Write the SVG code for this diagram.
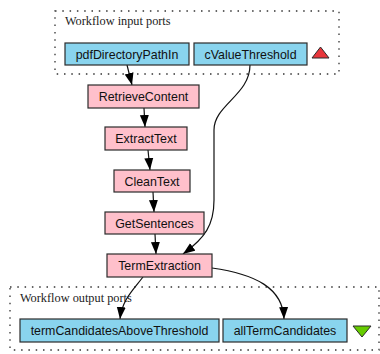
<svg xmlns="http://www.w3.org/2000/svg" width="380" height="354" viewBox="0 0 380 354">
<defs>
<style>
.port{fill:#89d4ee;stroke:#2b2b2b;stroke-width:1.2}
.proc{fill:#ffc0cb;stroke:#2b2b2b;stroke-width:1.2}
.lbl{font-family:"Liberation Sans",Arial,sans-serif;font-size:12.4px;fill:#111;text-anchor:middle}
.cap{font-family:"Liberation Serif","Times New Roman",serif;font-size:12.3px;fill:#222}
.cluster{fill:none;stroke:#333;stroke-width:1.3;stroke-dasharray:1.5,5.8}
.edge{fill:none;stroke:#111;stroke-width:1.2}
</style>
<marker id="arr" viewBox="0 0 12 10" refX="12" refY="5" markerWidth="12" markerHeight="10" markerUnits="userSpaceOnUse" orient="auto">
<path d="M0,0.5 L12,5 L0,9.5 Z" fill="#000"/>
</marker>
</defs>
<rect width="380" height="354" fill="#fff"/>
<g id="inputs">
<rect class="cluster" x="55" y="11" width="284" height="63"/>
<text class="cap" x="65" y="25">Workflow input ports</text>
<polygon points="312,58 320.5,47 329,58" fill="#e8363b" stroke="#2b2b2b" stroke-width="1"/>
</g>
<g id="outputs">
<rect class="cluster" x="10" y="287" width="369" height="63"/>
<text class="cap" x="20" y="302">Workflow output ports</text>
<polygon points="353,326 371,326 362,337" fill="#66cc00" stroke="#2b2b2b" stroke-width="1"/>
</g>
<g id="connectors">
<path class="edge" marker-end="url(#arr)" d="M127,65 L132,85"/>
<path class="edge" marker-end="url(#arr)" d="M250,65 C250,95 214,105 214,130 L214,200 C214,225 205,238 183,254"/>
<path class="edge" marker-end="url(#arr)" d="M144,108 L145,127"/>
<path class="edge" marker-end="url(#arr)" d="M148,150 L150,170"/>
<path class="edge" marker-end="url(#arr)" d="M153,192 L154,212"/>
<path class="edge" marker-end="url(#arr)" d="M155,234 L156,254"/>
<path class="edge" marker-end="url(#arr)" d="M143,277 C133,290 122,300 120,319"/>
<path class="edge" marker-end="url(#arr)" d="M212,268 C255,274 283,288 284,319"/>
</g>
<g id="pdfDirectoryPathIn">
<rect class="port" x="65" y="43" width="124" height="22"/>
<text class="lbl" x="127" y="58.5">pdfDirectoryPathIn</text>
</g>
<g id="cValueThreshold">
<rect class="port" x="194" y="43" width="113" height="22"/>
<text class="lbl" x="250.5" y="58.5">cValueThreshold</text>
</g>
<g id="RetrieveContent">
<rect class="proc" x="88" y="85" width="111" height="23"/>
<text class="lbl" x="143.5" y="101">RetrieveContent</text>
</g>
<g id="ExtractText">
<rect class="proc" x="105" y="127" width="82" height="23"/>
<text class="lbl" x="146" y="143">ExtractText</text>
</g>
<g id="CleanText">
<rect class="proc" x="114" y="170" width="76" height="22"/>
<text class="lbl" x="152" y="185.5">CleanText</text>
</g>
<g id="GetSentences">
<rect class="proc" x="105" y="212" width="99" height="22"/>
<text class="lbl" x="154.5" y="227.5">GetSentences</text>
</g>
<g id="TermExtraction">
<rect class="proc" x="107" y="254" width="105" height="23"/>
<text class="lbl" x="159.5" y="270">TermExtraction</text>
</g>
<g id="termCandidatesAboveThreshold">
<rect class="port" x="20" y="319" width="199" height="23"/>
<text class="lbl" x="119.5" y="335">termCandidatesAboveThreshold</text>
</g>
<g id="allTermCandidates">
<rect class="port" x="223" y="319" width="124" height="23"/>
<text class="lbl" x="285" y="335">allTermCandidates</text>
</g>
</svg>
